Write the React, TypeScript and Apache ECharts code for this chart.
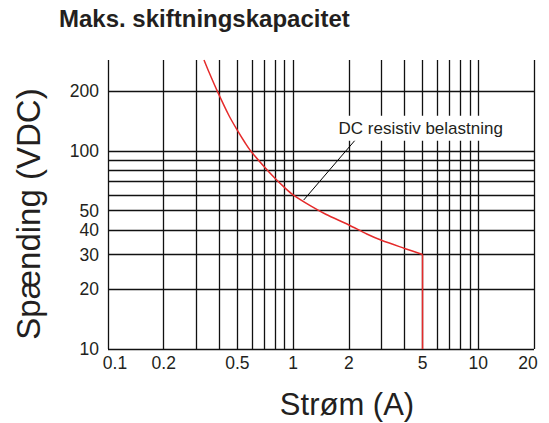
import React, { useEffect, useRef } from 'react';
import * as echarts from 'echarts';

// ---- data ----
const xGridValues = [0.1, 0.2, 0.3, 0.4, 0.5, 0.6, 0.7, 0.8, 0.9, 1, 2, 3, 4, 5, 6, 7, 8, 9, 10, 20];
const xTickLabels = ['0.1', '0.2', '0.5', '1', '2', '5', '10', '20'];
const yGridValues = [10, 20, 30, 40, 50, 60, 70, 80, 90, 100, 200];
const yTickLabels = ['10', '20', '30', '40', '50', '100', '200'];

// maximum switching capacity curve
const currentA = [0.33, 0.35, 0.39, 0.45, 0.5, 0.55, 0.59, 0.7, 0.8, 0.9, 1, 1.25, 1.5, 2, 2.5, 3, 4, 5];
const voltageV = [288, 252, 200, 151, 127, 110, 100, 83, 72.6, 65.3, 60, 52.6, 47.9, 42.3, 38.1, 35.4, 32.2, 30];
const cutoffCurrentA = [5, 5];
const cutoffVoltageV = [30, 10];

const xMin = 0.1;
const xMax = 20;
const yMin = 10;
const yMax = 288;

const chartTitle = 'Maks. skiftningskapacitet';
const xName = 'Strøm (A)';
const yName = 'Spænding (VDC)';
const annotationText = 'DC resistiv belastning';
const leaderFrom = [1.14, 56.5];
const leaderTo = [2.2, 115.6];
const annotationAnchor = [1.715, 130.4];

const FONT = '"Liberation Sans", Arial, Helvetica, sans-serif';
const TEXT = '#231f20';
const GRID = '#111111';
const RED = '#e52b2b';

export default function App() {
  const ref = useRef<HTMLDivElement>(null);
  useEffect(() => {
    if (!ref.current) return;
    const chart = echarts.init(ref.current, undefined, { renderer: 'svg' });

    const tickLabelBase = {
      show: true,
      position: 'start',
      color: TEXT,
      fontSize: 17.5,
      fontFamily: FONT,
    };

    const xLines = xGridValues.map((v) => {
      const s = String(v);
      const show = xTickLabels.includes(s);
      return {
        xAxis: v,
        label: show
          ? {
              ...tickLabelBase,
              formatter: s,
              distance: 5,
              padding: s === '0.1' ? [0, 0, 0, 14] : s === '20' ? [0, 12, 0, 0] : 0,
            }
          : { show: false },
      };
    });
    const yLines = yGridValues.map((v) => {
      const s = String(v);
      const show = yTickLabels.includes(s);
      return {
        yAxis: v,
        label: show
          ? {
              ...tickLabelBase,
              formatter: s,
              distance: 9,
              padding: s === '10' ? [0, 0, 16, 0] : 0,
            }
          : { show: false },
      };
    });

    const curve = currentA.map((x, i) => [x, voltageV[i]]);
    const drop = cutoffCurrentA.map((x, i) => [x, cutoffVoltageV[i]]);

    chart.setOption({
      animation: false,
      grid: { left: 108, top: 60, width: 426, height: 289, outerBoundsMode: 'none' },
      xAxis: {
        type: 'log',
        logBase: 10,
        min: xMin,
        max: xMax,
        axisLine: { show: false },
        axisTick: { show: false },
        axisLabel: { show: false },
        splitLine: { show: false },
      },
      yAxis: {
        type: 'log',
        logBase: 10,
        min: yMin,
        max: yMax,
        axisLine: { show: false },
        axisTick: { show: false },
        axisLabel: { show: false },
        splitLine: { show: false },
      },
      graphic: [
        {
          type: 'text',
          x: 59,
          y: 18,
          style: {
            text: chartTitle,
            fill: TEXT,
            fontSize: 24,
            fontWeight: 'bold',
            fontFamily: FONT,
            align: 'left',
            textAlign: 'left',
            verticalAlign: 'middle',
            textVerticalAlign: 'middle',
          },
        },
        {
          type: 'text',
          x: 347,
          y: 404,
          style: {
            text: xName,
            fill: TEXT,
            fontSize: 31,
            fontFamily: FONT,
            align: 'center',
            textAlign: 'center',
            verticalAlign: 'middle',
            textVerticalAlign: 'middle',
          },
        },
        {
          type: 'text',
          x: 28.5,
          y: 214,
          rotation: Math.PI / 2,
          style: {
            text: yName,
            fill: TEXT,
            fontSize: 33,
            fontFamily: FONT,
            align: 'center',
            textAlign: 'center',
            verticalAlign: 'middle',
            textVerticalAlign: 'middle',
          },
        },
      ],
      series: [
        {
          type: 'line',
          data: [],
          clip: false,
          silent: true,
          markLine: {
            silent: true,
            z: 1,
            symbol: ['none', 'none'],
            lineStyle: { color: GRID, width: 1.3, type: 'solid' },
            label: { show: false },
            emphasis: { disabled: true },
            data: [...xLines, ...yLines],
          },
        },
        {
          type: 'line',
          data: curve,
          z: 10,
          showSymbol: false,
          symbol: 'none',
          smooth: 0.3,
          lineStyle: { color: RED, width: 1.5 },
          itemStyle: { color: RED },
        },
        {
          type: 'line',
          data: drop,
          z: 10,
          showSymbol: false,
          symbol: 'none',
          lineStyle: { color: RED, width: 1.5 },
          itemStyle: { color: RED },
        },
        {
          type: 'line',
          data: [],
          z: 20,
          silent: true,
          markLine: {
            silent: true,
            z: 20,
            symbol: ['none', 'none'],
            lineStyle: { color: '#000', width: 1, type: 'solid' },
            label: { show: false },
            data: [[{ coord: leaderFrom }, { coord: leaderTo }]],
          },
          markPoint: {
            silent: true,
            z: 21,
            symbol: 'rect',
            symbolSize: 0,
            data: [
              {
                coord: annotationAnchor,
                label: {
                  show: true,
                  position: 'right',
                  distance: 0,
                  formatter: annotationText,
                  color: TEXT,
                  fontSize: 17,
                  fontFamily: FONT,
                  backgroundColor: '#ffffff',
                  padding: [4, 2, 4, 2],
                },
              },
            ],
          },
        },
      ],
    });
    return () => chart.dispose();
  }, []);
  return (
    <div
      ref={ref}
      style={{ position: 'fixed', left: 0, top: 0, width: 549, height: 423, background: '#fff' }}
    />
  );
}
